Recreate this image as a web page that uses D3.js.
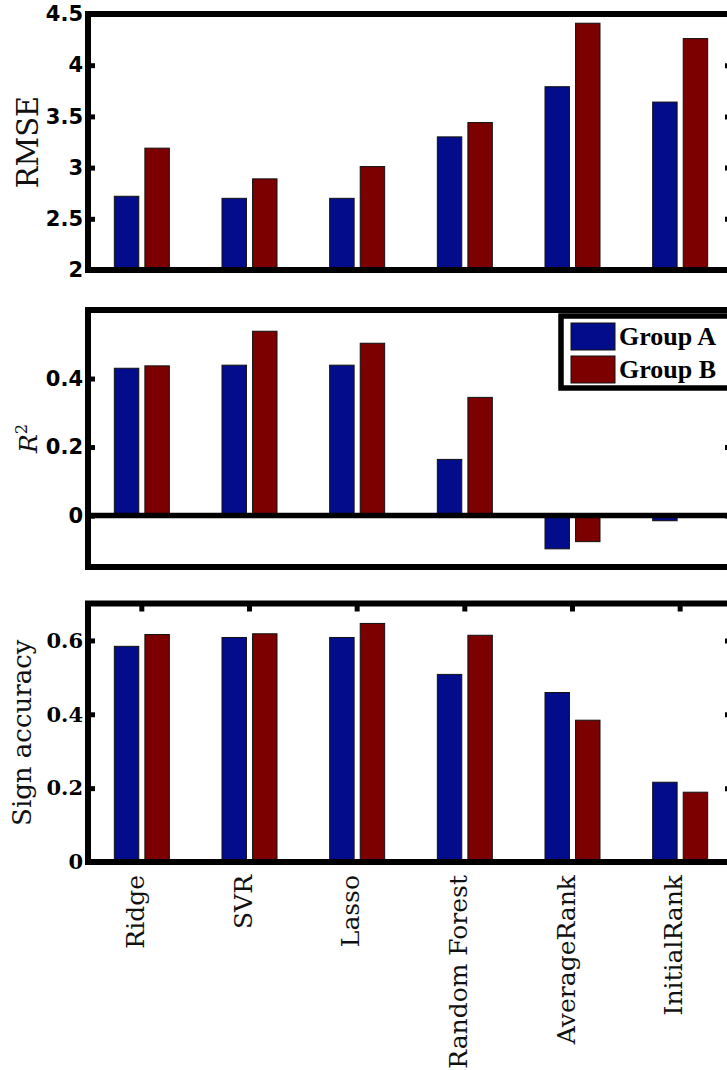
<!DOCTYPE html>
<html>
<head>
<meta charset="utf-8">
<script src="https://cdn.jsdelivr.net/npm/d3@7"></script>
<style>
  html, body { margin: 0; padding: 0; background: #fff; overflow: hidden; }
  svg { display: block; }
</style>
</head>
<body>
<svg id="chart" width="727" height="1070"></svg>
<script>
// ---------------- data ----------------
const categories = ["Ridge", "SVR", "Lasso", "Random Forest", "AverageRank", "InitialRank"];
const series = ["Group A", "Group B"];
const seriesColors = ["#030c8a", "#7d0000"];

const rmseA = [2.72, 2.70, 2.70, 3.30, 3.79, 3.64];
const rmseB = [3.19, 2.89, 3.01, 3.44, 4.41, 4.26];

const r2A = [0.430, 0.439, 0.439, 0.164, -0.097, -0.015];
const r2B = [0.437, 0.538, 0.503, 0.345, -0.076, -0.003];

const signA = [0.584, 0.608, 0.608, 0.508, 0.459, 0.216];
const signB = [0.616, 0.618, 0.646, 0.614, 0.384, 0.189];

const rmseTicks = [2, 2.5, 3, 3.5, 4, 4.5];
const r2Ticks = [0, 0.2, 0.4];
const signTicks = [0, 0.2, 0.4, 0.6];

// ---------------- layout ----------------
const svg = d3.select("#chart");
const left = 88, right = 734;
const x = d3.scaleBand().domain(categories).range([left, right]).padding(0);
const xSub = d3.scaleBand().domain(series).range([-27.5, 27.5]).paddingInner(0.2);
const cx = c => x(c) + x.bandwidth() / 2;

const panels = [
  { key: "rmse", a: rmseA, b: rmseB, domain: [2, 4.5], range: [270, 14], ticks: rmseTicks,
    fmt: d3.format("~g"), tickFont: "'DejaVu Sans', sans-serif", label: "RMSE", labelX: 38, labelSize: 29 },
  { key: "r2", a: r2A, b: r2B, domain: [-0.15, 0.6], range: [567, 310], ticks: r2Ticks,
    fmt: d3.format("~g"), tickFont: "'DejaVu Sans', sans-serif", label: "R2", labelX: 37, labelSize: 25, zeroLine: true, legend: true },
  { key: "sign", a: signA, b: signB, domain: [0, 0.7], range: [862, 603.5], ticks: signTicks,
    fmt: d3.format("~g"), tickFont: "'DejaVu Serif', serif", label: "Sign accuracy", labelX: 31, labelSize: 26, topTicks: true, xLabels: true }
];

panels.forEach(p => {
  const y = d3.scaleLinear().domain(p.domain).range(p.range);
  const g = svg.append("g").attr("class", "panel-" + p.key);
  const y0 = y(Math.max(p.domain[0], 0));

  // bars
  const rows = categories.map((c, i) => ({ c, vals: [p.a[i], p.b[i]] }));
  const grp = g.selectAll("g.grp").data(rows).join("g").attr("class", "grp")
    .attr("transform", d => `translate(${cx(d.c)},0)`);
  grp.selectAll("rect").data(d => d.vals.map((v, j) => ({ v, s: series[j], j })))
    .join("rect")
    .attr("x", d => xSub(d.s))
    .attr("width", xSub.bandwidth())
    .attr("y", d => Math.min(y(d.v), y0))
    .attr("height", d => Math.abs(y(d.v) - y0))
    .attr("fill", d => seriesColors[d.j])
    .attr("stroke", "#111")
    .attr("stroke-width", 1);

  // zero line
  if (p.zeroLine) {
    g.append("line").attr("x1", left).attr("x2", right)
      .attr("y1", y(0)).attr("y2", y(0))
      .attr("stroke", "#000").attr("stroke-width", 5.5);
  }

  // left axis (ticks inward + labels)
  const axL = g.append("g").attr("transform", `translate(${left},0)`)
    .call(d3.axisLeft(y).tickValues(p.ticks).tickFormat(p.fmt).tickSize(-7).tickPadding(6));
  axL.select(".domain").remove();
  axL.selectAll(".tick line").attr("stroke", "#000").attr("stroke-width", 5);
  axL.selectAll(".tick text")
    .attr("font-family", p.tickFont)
    .attr("font-weight", "bold")
    .attr("font-size", 21)
    .attr("fill", "#000")
    .attr("x", -5);

  // right axis ticks (no labels)
  const axR = g.append("g").attr("transform", `translate(${right},0)`)
    .call(d3.axisRight(y).tickValues(p.ticks).tickFormat("").tickSize(-9));
  axR.select(".domain").remove();
  axR.selectAll(".tick line").attr("stroke", "#000").attr("stroke-width", 5);

  // top ticks
  if (p.topTicks) {
    const axT = g.append("g").attr("transform", `translate(0,${p.range[1]})`)
      .call(d3.axisTop(x).tickFormat("").tickSize(-8));
    axT.select(".domain").remove();
    axT.selectAll(".tick line").attr("stroke", "#000").attr("stroke-width", 5);
  }

  // frame
  g.append("rect")
    .attr("x", left).attr("y", p.range[1])
    .attr("width", right - left).attr("height", p.range[0] - p.range[1])
    .attr("fill", "none").attr("stroke", "#000").attr("stroke-width", 6);

  // y label
  const midY = (p.range[0] + p.range[1]) / 2;
  const lab = g.append("text")
    .attr("transform", `translate(${p.labelX},${midY}) rotate(-90)`)
    .attr("text-anchor", "middle")
    .attr("font-family", "'DejaVu Serif', serif")
    .attr("font-size", p.labelSize)
    .attr("fill", "#111");
  if (p.label === "R2") {
    lab.append("tspan").attr("font-style", "italic").text("R");
    lab.append("tspan").attr("font-size", p.labelSize * 0.65).attr("dy", -10).text("2");
  } else {
    lab.text(p.label);
  }

  // x labels
  if (p.xLabels) {
    g.selectAll("text.xlab").data(categories).join("text")
      .attr("class", "xlab")
      .attr("transform", c => `translate(${cx(c) + 2},875) rotate(-90)`)
      .attr("text-anchor", "end")
      .attr("font-family", "'DejaVu Serif', serif")
      .attr("font-size", 25)
      .attr("fill", "#111")
      .text(c => c);
  }

  // legend
  if (p.legend) {
    const lg = g.append("g");
    lg.append("rect").attr("x", 561).attr("y", 316).attr("width", 200).attr("height", 72)
      .attr("fill", "#fff").attr("stroke", "#000").attr("stroke-width", 5.5);
    const items = lg.selectAll("g.item").data(series).join("g").attr("class", "item")
      .attr("transform", (d, i) => `translate(571,${323 + i * 33})`);
    items.append("rect").attr("width", 44).attr("height", 27)
      .attr("fill", (d, i) => seriesColors[i]).attr("stroke", "#111").attr("stroke-width", 1);
    items.append("text").attr("x", 48).attr("y", 22)
      .attr("font-family", "'Liberation Serif', serif")
      .attr("font-weight", "bold")
      .attr("font-size", 26)
      .attr("fill", "#000")
      .text(d => d);
  }
});
</script>
</body>
</html>
